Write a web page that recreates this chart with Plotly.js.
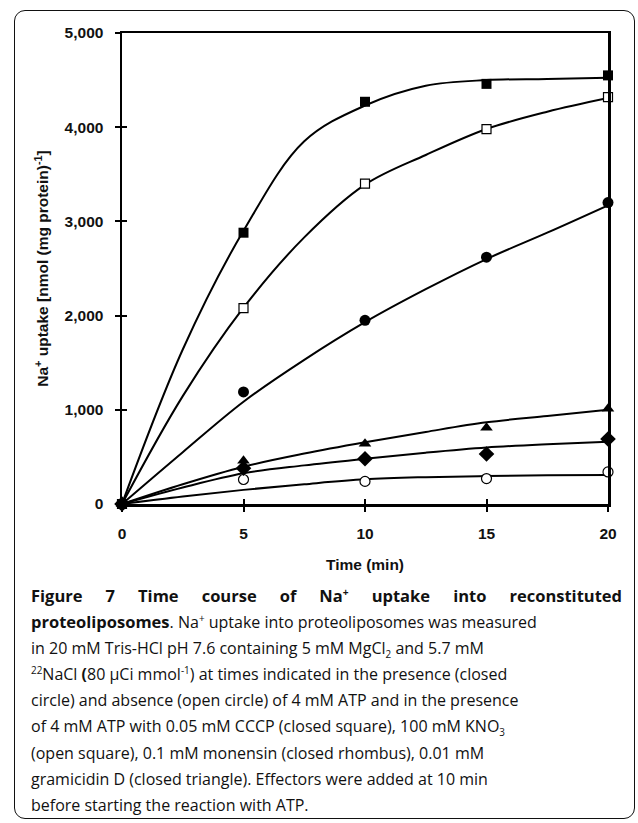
<!DOCTYPE html>
<html>
<head>
<meta charset="utf-8">
<script src="https://cdn.plot.ly/plotly-3.0.1.min.js"></script>
<style>
  html, body { margin: 0; padding: 0; background: #fff; }
  body { width: 638px; height: 823px; position: relative; overflow: hidden; }
  #frame { position: absolute; left: 14px; top: 10px; width: 621px; height: 809px;
           border: 1.5px solid #111; border-radius: 11px; box-sizing: border-box; }
  #chart { position: absolute; left: 0; top: 0; width: 638px; height: 580px; }
  #caption { position: absolute; left: 31px; top: 583px; width: 591px;
             font-family: "Open Sans", "Noto Sans", sans-serif; font-size: 16px;
             line-height: 26.1px; color: #111; }
  #caption div { white-space: nowrap; }
  #caption .just { text-align: justify; text-align-last: justify; white-space: normal; font-size: 16.5px; }
  #caption sup, #caption sub { font-size: 0.62em; line-height: 0; }
</style>
</head>
<body>
<div id="frame"></div>
<div id="chart"></div>
<div id="caption">
  <div class="just"><b>Figure 7 Time course of Na<sup>+</sup> uptake into reconstituted</b></div>
  <div><b style="font-size:16.5px">proteoliposomes</b>. Na<sup>+</sup> uptake into proteoliposomes was measured</div>
  <div>in 20 mM Tris-HCl pH 7.6 containing 5 mM MgCl<sub>2</sub> and 5.7 mM</div>
  <div><sup>22</sup>NaCl <b>(</b>80 µCi mmol<sup>-1</sup>) at times indicated in the presence (closed</div>
  <div>circle) and absence (open circle) of 4 mM ATP and in the presence</div>
  <div>of 4 mM ATP with 0.05 mM CCCP (closed square), 100 mM KNO<sub>3</sub></div>
  <div>(open square), 0.1 mM monensin (closed rhombus), 0.01 mM</div>
  <div>gramicidin D (closed triangle). Effectors were added at 10 min</div>
  <div>before starting the reaction with ATP.</div>
</div>
<script>
// ---- measured data points (time in min, uptake in nmol/mg protein) ----
const timePts = [0, 5, 10, 15, 20];
const cccp      = [0, 2880, 4270, 4460, 4550];   // closed square
const kno3      = [0, 2080, 3400, 3980, 4320];   // open square
const atp       = [0, 1190, 1950, 2620, 3200];   // closed circle
const gramicidin= [0, 460, 640, 810, 1010];      // closed triangle
const monensin  = [0, 380, 480, 530, 690];       // closed rhombus
const noAtp     = [0, 260, 240, 270, 340];       // open circle

// ---- fitted trend curves ----
const curveT   = [0, 2.5, 5, 7.5, 10, 12.5, 15, 17.5, 20];
const cccpFit  = [0, 1640, 2900, 3850, 4230, 4440, 4500, 4512, 4526];
const kno3Fit  = [0, 1145, 2084, 2830, 3390, 3705, 3981, 4165, 4310];
const atpFit   = [0, 550, 1086, 1530, 1930, 2280, 2600, 2880, 3170];
const gramFit  = [0, 210, 396, 535, 655, 765, 867, 935, 1000];
const monFit   = [0, 175, 326, 410, 480, 545, 600, 635, 662];
const noAtpFit = [0, 80, 150, 210, 262, 285, 297, 305, 308];

const xTickVals = [0, 5, 10, 15, 20];
const xTickText = ['0', '5', '10', '15', '20'];
const yTickVals = [0, 1000, 2000, 3000, 4000, 5000];
const yTickText = ['0', '1,000', '2,000', '3,000', '4,000', '5,000'];

const fitSets = [cccpFit, kno3Fit, atpFit, gramFit, monFit, noAtpFit];
const ptSets = [
  {y: noAtp, symbol: 'circle', size: 10, open: true},
  {y: monensin, symbol: 'diamond', size: 12, open: false},
  {y: gramicidin, symbol: 'triangle-up', size: 11, open: false},
  {y: atp, symbol: 'circle', size: 11, open: false},
  {y: kno3, symbol: 'square', size: 9, open: true},
  {y: cccp, symbol: 'square', size: 10, open: false}
];

const traces = [];
fitSets.forEach(f => traces.push({
  x: curveT, y: f, mode: 'lines', type: 'scatter',
  line: {color: '#000', width: 2, shape: 'spline', smoothing: 1},
  hoverinfo: 'skip', showlegend: false, cliponaxis: false
}));
ptSets.forEach(p => traces.push({
  x: timePts, y: p.y, mode: 'markers', type: 'scatter',
  marker: {symbol: p.symbol, size: p.size, color: p.open ? '#fff' : '#000',
           line: {color: '#000', width: p.open ? 1.2 : 0}},
  showlegend: false, cliponaxis: false
}));
// invisible trace to carry the inner-tick overlay axes
traces.push({x: [null], y: [null], xaxis: 'x2', yaxis: 'y2', mode: 'markers',
             showlegend: false, hoverinfo: 'skip'});

const tickFont = {family: 'Liberation Sans, Arial, sans-serif', size: 15.5, color: '#111', weight: 700};

const layout = {
  width: 638, height: 580,
  margin: {l: 122, r: 30, t: 33, b: 76},
  paper_bgcolor: 'rgba(0,0,0,0)', plot_bgcolor: '#fff',
  showlegend: false,
  xaxis: {
    range: [0, 20], tickvals: xTickVals, ticktext: xTickText,
    ticks: 'outside', ticklen: 5, tickwidth: 2, tickcolor: '#000',
    showline: true, linewidth: 2.5, linecolor: '#000', mirror: true,
    showgrid: false, zeroline: false, tickfont: tickFont, ticklabelstandoff: 9,
    title: {text: 'Time (min)', font: {family: 'Liberation Sans, Arial, sans-serif', size: 15.5, color: '#111', weight: 700}, standoff: 18}
  },
  yaxis: {
    range: [0, 5000], tickvals: yTickVals, ticktext: yTickText,
    ticks: 'outside', ticklen: 5, tickwidth: 2, tickcolor: '#000',
    showline: true, linewidth: 2.5, linecolor: '#000', mirror: true,
    showgrid: false, zeroline: false, tickfont: tickFont, ticklabelstandoff: 8,
    title: {text: 'Na<sup>+</sup> uptake [nmol (mg protein)<sup>-1</sup>]',
            font: {family: 'Liberation Sans, Arial, sans-serif', size: 15.5, color: '#111', weight: 700}, standoff: 12}
  },
  xaxis2: {
    overlaying: 'x', anchor: 'y', side: 'bottom', range: [0, 20], tickvals: xTickVals,
    ticks: 'inside', ticklen: 5, tickwidth: 2, tickcolor: '#000',
    showticklabels: false, showline: false, showgrid: false, zeroline: false
  },
  yaxis2: {
    overlaying: 'y', anchor: 'x', side: 'left', range: [0, 5000], tickvals: yTickVals,
    ticks: 'inside', ticklen: 5, tickwidth: 2, tickcolor: '#000',
    showticklabels: false, showline: false, showgrid: false, zeroline: false
  }
};

Plotly.newPlot('chart', traces, layout, {staticPlot: true, displayModeBar: false});
</script>
</body>
</html>
